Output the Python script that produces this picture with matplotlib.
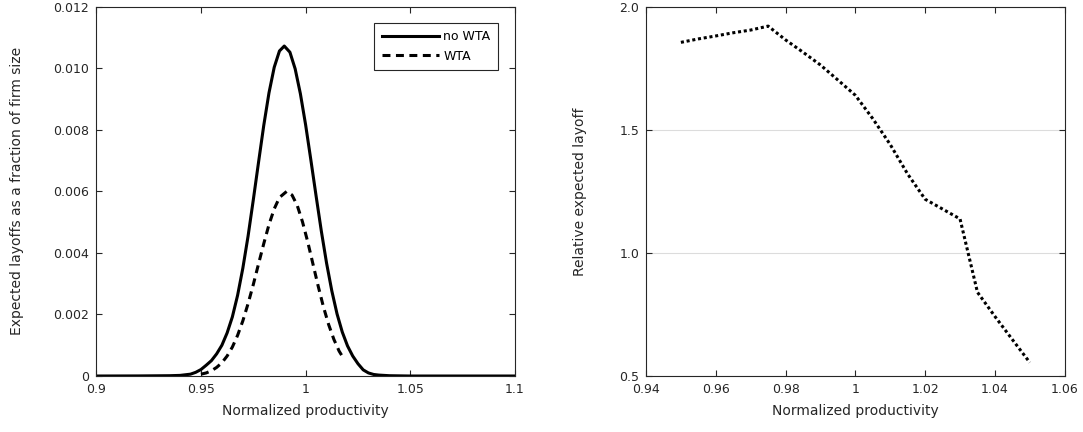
import matplotlib
matplotlib.use("Agg")
import matplotlib.pyplot as plt


# ── Data ───────────────────────────────────────────────────────────────────────

# left panel: expected layoffs as a fraction of firm size
no_wta_x = [0.900, 0.920, 0.935, 0.940, 0.9450, 0.9475, 0.9500, 0.9525, 0.9550, 0.9575,
            0.9600, 0.9625, 0.9650, 0.9675, 0.9700, 0.9725, 0.9750, 0.9775, 0.9800,
            0.9825, 0.9850, 0.9875, 0.9898, 0.9925, 0.9950, 0.9975, 1.0000, 1.0025,
            1.0050, 1.0075, 1.0100, 1.0125, 1.0150, 1.0175, 1.0200, 1.0225, 1.0250,
            1.0275, 1.0300, 1.0325, 1.035, 1.040, 1.050, 1.100]
no_wta_y = [0.0, 0.000003, 0.00001, 0.00002, 0.00006, 0.00012, 0.00021, 0.00035, 0.00050, 0.00072,
            0.00100, 0.00140, 0.00192, 0.00262, 0.00350, 0.00454, 0.00572, 0.00694, 0.00814,
            0.00920, 0.01003, 0.01056, 0.01072, 0.01052, 0.00998, 0.00917, 0.00816, 0.00702,
            0.00585, 0.00471, 0.00367, 0.00277, 0.00202, 0.00143, 0.00098, 0.00065, 0.00040,
            0.00020, 0.00010, 0.00005, 0.00003, 0.00001, 0.0, 0.0]

wta_x = [0.9500, 0.9525, 0.9550, 0.9575, 0.9600, 0.9625, 0.9650, 0.9675, 0.9700, 0.9725,
         0.9750, 0.9775, 0.9800, 0.9825, 0.9850, 0.9875, 0.9910, 0.9935, 0.9960, 0.9985,
         1.0010, 1.0035, 1.0060, 1.0085, 1.0110, 1.0135, 1.0160, 1.0185]
wta_y = [0.00006, 0.00010, 0.00017, 0.00028, 0.00043, 0.00065, 0.00094, 0.00132, 0.00179, 0.00235,
         0.00297, 0.00364, 0.00430, 0.00492, 0.00543, 0.00580, 0.00600, 0.00588, 0.00554, 0.00501,
         0.00436, 0.00364, 0.00292, 0.00225, 0.00167, 0.00119, 0.00081, 0.00053]

left_xticks  = [0.9, 0.95, 1.0, 1.05, 1.1]
left_xlabels = ["0.9", "0.95", "1", "1.05", "1.1"]
left_yticks  = [0.0, 0.002, 0.004, 0.006, 0.008, 0.010, 0.012]
left_ylabels = ["0", "0.002", "0.004", "0.006", "0.008", "0.010", "0.012"]

# right panel: relative expected layoff
rel_x = [0.950, 0.955, 0.960, 0.965, 0.970, 0.975, 0.980, 0.985, 0.990, 0.995, 1.000,
         1.005, 1.010, 1.015, 1.020, 1.025, 1.030, 1.035, 1.040, 1.045, 1.050]
rel_y = [1.855, 1.869, 1.881, 1.894, 1.905, 1.921, 1.865, 1.815, 1.763, 1.702, 1.640,
         1.545, 1.440, 1.320, 1.218, 1.178, 1.138, 0.840, 0.742, 0.648, 0.555]

right_xticks  = [0.94, 0.96, 0.98, 1.0, 1.02, 1.04, 1.06]
right_xlabels = ["0.94", "0.96", "0.98", "1", "1.02", "1.04", "1.06"]
right_yticks  = [0.5, 1.0, 1.5, 2.0]
right_ylabels = ["0.5", "1.0", "1.5", "2.0"]


# ── Shared axes styling (MATLAB-like box) ──────────────────────────────────────

AX_COLOR = "#262626"


def style_axes(ax):
    for side in ("left", "right", "top", "bottom"):
        ax.spines[side].set_color(AX_COLOR)
        ax.spines[side].set_linewidth(0.8)
    ax.tick_params(direction="in", length=4, width=0.8, colors=AX_COLOR,
                   labelsize=9, pad=5, top=True, right=True)


fig = plt.figure(figsize=(10.83, 4.32), dpi=100)

# ── Left panel ─────────────────────────────────────────────────────────────────

ax1 = fig.add_axes([0.0889, 0.1296, 0.3866, 0.855])
ax1.plot(no_wta_x, no_wta_y, color="black", linewidth=2.2, label="no WTA")
ax1.plot(wta_x, wta_y, color="black", linewidth=2.2, linestyle=(0, (2.6, 1.8)), label="WTA")
ax1.set_xlim(0.9, 1.1)
ax1.set_ylim(0, 0.012)
ax1.set_xticks(left_xticks)
ax1.set_xticklabels(left_xlabels)
ax1.set_yticks(left_yticks)
ax1.set_yticklabels(left_ylabels)
style_axes(ax1)
ax1.set_xlabel("Normalized productivity", fontsize=10, color=AX_COLOR)
ax1.set_ylabel("Expected layoffs as a fraction of firm size", fontsize=10, color=AX_COLOR)
ax1.xaxis.set_label_coords(0.5, -0.075)
ax1.yaxis.set_label_coords(-0.173, 0.5)

leg = ax1.legend(loc="upper right", bbox_to_anchor=(0.959, 0.956), borderaxespad=0,
                 fontsize=9, handlelength=4.6, handletextpad=0.3, borderpad=0.6,
                 labelspacing=0.5, fancybox=False, framealpha=1)
leg.get_frame().set_edgecolor(AX_COLOR)
leg.get_frame().set_linewidth(0.8)

# ── Right panel ────────────────────────────────────────────────────────────────

ax2 = fig.add_axes([0.5965, 0.1296, 0.3866, 0.855])
ax2.plot(rel_x, rel_y, color="black", linewidth=2.2, linestyle=(0, (1, 0.9)))
ax2.set_xlim(0.94, 1.06)
ax2.set_ylim(0.5, 2.0)
ax2.set_xticks(right_xticks)
ax2.set_xticklabels(right_xlabels)
ax2.set_yticks(right_yticks)
ax2.set_yticklabels(right_ylabels)
ax2.yaxis.grid(True, color="#dcdcdc", linewidth=0.8)
ax2.set_axisbelow(True)
style_axes(ax2)
ax2.set_xlabel("Normalized productivity", fontsize=10, color=AX_COLOR)
ax2.set_ylabel("Relative expected layoff", fontsize=10, color=AX_COLOR)
ax2.xaxis.set_label_coords(0.5, -0.075)
ax2.yaxis.set_label_coords(-0.141, 0.5)

fig.savefig("out.png", dpi=100)
